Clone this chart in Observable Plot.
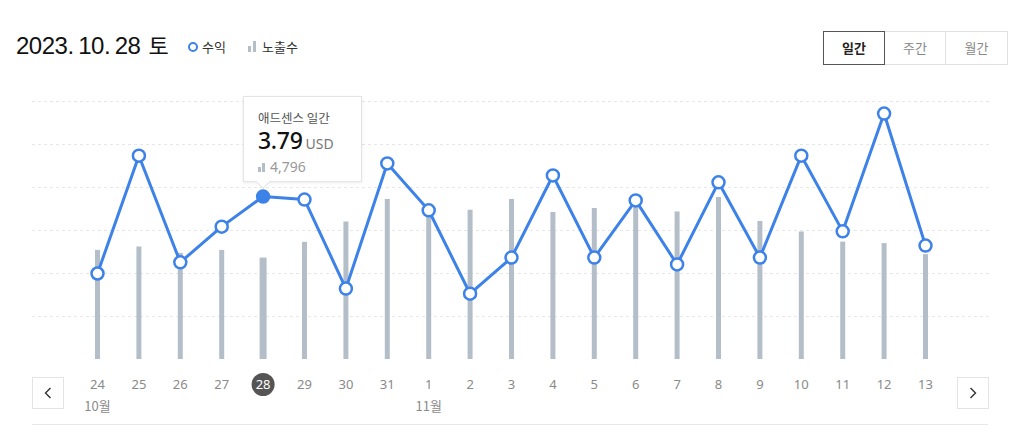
<!DOCTYPE html>
<html>
<head>
<meta charset="utf-8">
<script src="https://cdn.jsdelivr.net/npm/d3@7"></script>
<script src="https://cdn.jsdelivr.net/npm/@observablehq/plot@0.6"></script>
<style>
  html, body { margin: 0; padding: 0; background: #fff; }
  body { width: 1024px; height: 436px; position: relative; overflow: hidden;
         font-family: "Noto Sans CJK KR", "Noto Sans", sans-serif; }
  .abs { position: absolute; }
  #title { left: 16px; top: 28px; font-family: "Liberation Sans", Arial, "Noto Sans CJK KR", sans-serif;
           font-size: 24px; color: #111; letter-spacing: -0.5px; word-spacing: -1.5px; white-space: nowrap; }
  #title .wd { font-family: "Noto Sans CJK KR"; font-weight: 400; font-size: 22px; margin-left: 8px; }
  .leg { top: 36px; font-size: 13px; color: #333; white-space: nowrap; line-height: 22px; }
  .ring { display: inline-block; width: 6px; height: 6px; border: 2.5px solid #3d82e8; border-radius: 50%;
          vertical-align: middle; margin-right: 4px; position: relative; top: -1px; }
  .barsIcon { display: inline-block; position: relative; width: 8px; height: 11px; vertical-align: middle; margin-right: 6px; top: -2px; }
  .barsIcon i { position: absolute; bottom: 0; width: 3px; background: #b4bec9; }
  .btn { top: 31px; height: 32px; width: 60px; border: 1px solid #e0e0e0; font-size: 13px; color: #888;
         text-align: center; line-height: 32px; box-sizing: content-box; }
  .btn.sel { border-color: #555; color: #222; font-weight: 600; z-index: 2; }
  .nav { top: 377px; width: 30px; height: 30px; border: 1px solid #e3e3e3; box-sizing: content-box; }
  .nav svg { position: absolute; left: 0; top: 0; }
  #rule { left: 32px; top: 424px; width: 956px; height: 1px; background: #e8e8e8; }
  #tip { left: 243px; top: 96px; width: 117px; height: 84px; background: #fff; border: 1px solid #e4e4e4;
         box-shadow: 0 1px 3px rgba(0,0,0,0.08); z-index: 5; }
  #tip .ptr { position: absolute; left: 14px; bottom: -6px; width: 9px; height: 9px; background: #fff;
              border-right: 1px solid #e4e4e4; border-bottom: 1px solid #e4e4e4; transform: rotate(45deg); }
  #tip .t1 { position: absolute; left: 14px; top: 14px; line-height: 14px; font-size: 12.5px; color: #555; white-space: nowrap; }
  #tip .t2 { position: absolute; left: 14px; top: 31px; line-height: 24px; height: 24px; white-space: nowrap; }
  #tip .t2 .v { font-family: "Noto Sans"; font-size: 23px; font-weight: 500; color: #111; letter-spacing: -0.3px; }
  #tip .t2 .u { font-family: "Noto Sans"; font-size: 14px; color: #777; margin-left: 3px; }
  #tip .t3 { position: absolute; left: 14px; top: 62px; line-height: 16px; height: 16px; font-family: "Noto Sans"; font-size: 14px; color: #999; white-space: nowrap; }
  .layer { position: absolute; left: 0; top: 90px; }
</style>
</head>
<body>
<div id="title" class="abs">2023. 10. 28<span class="wd">토</span></div>
<div class="abs leg" style="left:188px;"><span class="ring"></span>수익</div>
<div class="abs leg" style="left:248px;"><span class="barsIcon"><i style="left:0;height:6px"></i><i style="left:5px;height:11px"></i></span>노출수</div>

<div class="abs btn sel" style="left:823px;">일간</div>
<div class="abs btn" style="left:884px;">주간</div>
<div class="abs btn" style="left:945px;width:61px;">월간</div>

<div id="tip" class="abs">
  <div class="ptr"></div>
  <div class="t1">애드센스 일간</div>
  <div class="t2"><span class="v">3.79</span><span class="u">USD</span></div>
  <div class="t3"><span class="barsIcon" style="width:8px;height:9px;margin-right:4px;top:-1px"><i style="left:0;height:5px"></i><i style="left:4px;height:9px"></i></span>4,796</div>
</div>

<div class="abs nav" style="left:32px;"><svg width="30" height="30"><path d="M17.5 10 L12.5 15 L17.5 20" fill="none" stroke="#333" stroke-width="1.4"/></svg></div>
<div class="abs nav" style="left:957px;"><svg width="30" height="30"><path d="M12.5 10 L17.5 15 L12.5 20" fill="none" stroke="#333" stroke-width="1.4"/></svg></div>
<div id="rule" class="abs"></div>

<div id="l1" class="layer"></div>
<div id="l2" class="layer"></div>
<div id="l3" class="layer"></div>

<script>
// ---- data ----
const days = ["24","25","26","27","28","29","30","31","1","2","3","4","5","6","7","8","9","10","11","12","13"];
const revenue = [2.00,4.74,2.26,3.09,3.79,3.72,1.65,4.56,3.47,1.53,2.37,4.28,2.37,3.70,2.21,4.12,2.37,4.74,2.98,5.72,2.65];
const impressions = [5160,5320,5020,5160,4796,5540,6500,7560,7150,7060,7560,6950,7140,7210,6980,7660,6530,6030,5550,5480,4960];
const revenueTicks = [1,2,3,4,5,6];
const months = [{day: "24", label: "10월"}, {day: "1", label: "11월"}];
const selectedDay = "28";
const revenueMax = 6;
const impressionMax = 12200;

const rows = days.map((d, i) => ({day: d, rev: revenue[i], imp: impressions[i], sel: d === selectedDay}));

const blue = "#3d82e8";
const common = {
  width: 1024, height: 340,
  marginTop: 11, marginBottom: 71, marginLeft: 32, marginRight: 34,
  x: {type: "point", domain: days, padding: 1.57, round: false, axis: null},
  style: {background: "transparent", fontFamily: "Noto Sans, sans-serif", overflow: "visible"}
};

// layer 1: grid (revenue scale)
document.getElementById("l1").appendChild(Plot.plot({
  ...common,
  y: {domain: [0, revenueMax], axis: null},
  marks: [
    Plot.ruleY(revenueTicks, {stroke: "#e6e6e6", strokeWidth: 1, strokeDasharray: "3,3"})
  ]
}));

// layer 2: impressions bars
document.getElementById("l2").appendChild(Plot.plot({
  ...common,
  y: {domain: [0, impressionMax], axis: null},
  marks: [
    Plot.ruleX(rows, {x: "day", y1: 0, y2: "imp", stroke: "#b4bec9", strokeWidth: d => d.sel ? 7 : 5})
  ]
}));

// layer 3: revenue line, points, x labels
document.getElementById("l3").appendChild(Plot.plot({
  ...common,
  y: {domain: [0, revenueMax], axis: null},
  marks: [
    Plot.line(rows, {x: "day", y: "rev", stroke: blue, strokeWidth: 3, strokeLinejoin: "round"}),
    Plot.dot(rows, {x: "day", y: "rev", r: 6, fill: d => d.sel ? blue : "#fff", stroke: blue, strokeWidth: 2.5}),
    Plot.dot(rows.filter(d => d.sel), {x: "day", y: 0, dy: 25, r: 11.5, fill: "#555", stroke: "none"}),
    Plot.text(rows, {x: "day", y: 0, dy: 25, text: "day", fill: d => d.sel ? "#fff" : "#8a8a8a", fontSize: 13}),
    Plot.text(months, {x: "day", y: 0, dy: 47, text: "label", fill: "#8a8a8a", fontSize: 13,
                       fontFamily: "Noto Sans CJK KR"})
  ]
}));
</script>
</body>
</html>
